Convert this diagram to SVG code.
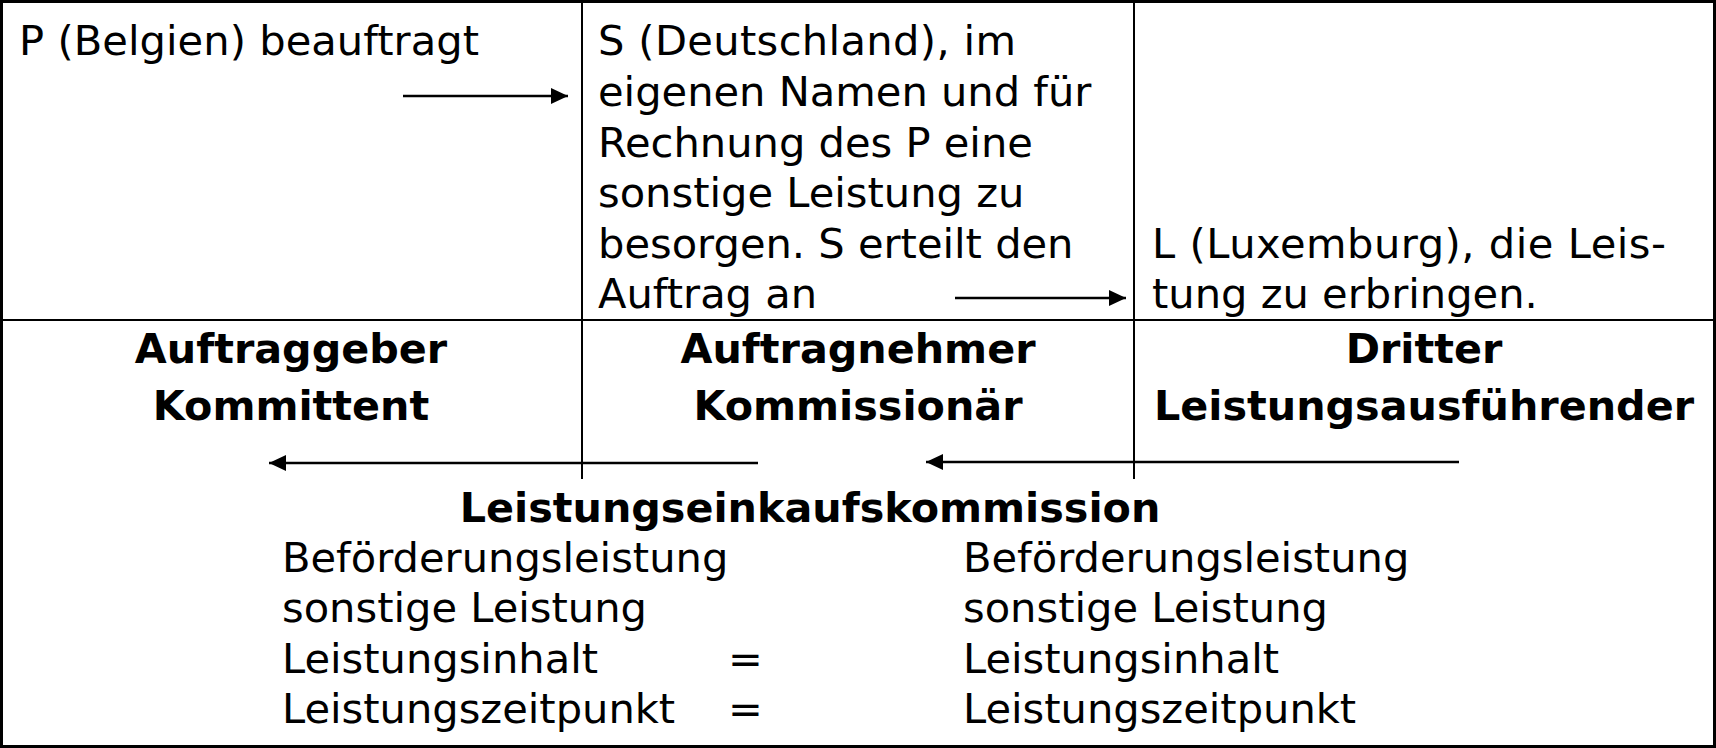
<svg xmlns="http://www.w3.org/2000/svg" width="1716" height="748" viewBox="0 0 1716 748">
<style>
.t{font-family:"DejaVu Sans","Noto Sans",sans-serif;font-size:41.6px;fill:#000}
.b{font-family:"DejaVu Sans","Noto Sans",sans-serif;font-size:41.3px;font-weight:bold;fill:#000;text-anchor:middle}
.grid{stroke:#000;stroke-width:2;fill:none}
.arr{stroke:#000;stroke-width:2.5;fill:none;marker-end:url(#ah)}
</style>
<defs>
<marker id="ah" markerUnits="userSpaceOnUse" markerWidth="17" markerHeight="16" refX="17" refY="8" orient="auto" viewBox="0 0 17 16">
<path d="M0,0 L17,8 L0,16 z" fill="#000"/>
</marker>
</defs>
<rect width="1716" height="748" fill="#fff"/>
<g id="frame">
<rect x="1.5" y="1.5" width="1713" height="745" fill="none" stroke="#000" stroke-width="3"/>
<line class="grid" x1="0" y1="320" x2="1716" y2="320"/>
<line class="grid" x1="582" y1="0" x2="582" y2="479"/>
<line class="grid" x1="1134" y1="0" x2="1134" y2="479"/>
</g>
<g id="cell-p">
<text class="t" x="19" y="55" textLength="460" lengthAdjust="spacing">P (Belgien) beauftragt</text>
</g>
<g id="cell-s">
<text class="t" x="598" y="55" textLength="418" lengthAdjust="spacing">S (Deutschland), im</text>
<text class="t" x="598" y="106">eigenen Namen und für</text>
<text class="t" x="598" y="157">Rechnung des P eine</text>
<text class="t" x="598" y="207">sonstige Leistung zu</text>
<text class="t" x="598" y="258">besorgen. S erteilt den</text>
<text class="t" x="598" y="308">Auftrag an</text>
</g>
<g id="cell-l">
<text class="t" x="1152" y="258" textLength="514" lengthAdjust="spacing">L (Luxemburg), die Leis-</text>
<text class="t" x="1152" y="308">tung zu erbringen.</text>
</g>
<g id="head-auftraggeber">
<text class="b" x="291" y="363">Auftraggeber</text>
<text class="b" x="291" y="420">Kommittent</text>
</g>
<g id="head-auftragnehmer">
<text class="b" x="858" y="363">Auftragnehmer</text>
<text class="b" x="858" y="420">Kommissionär</text>
</g>
<g id="head-dritter">
<text class="b" x="1424" y="363">Dritter</text>
<text class="b" x="1424" y="420">Leistungsausführender</text>
</g>
<g id="summary">
<text class="b" x="810" y="522">Leistungseinkaufskommission</text>
<text class="t" x="282" y="572">Beförderungsleistung</text>
<text class="t" x="282" y="622">sonstige Leistung</text>
<text class="t" x="282" y="673">Leistungsinhalt</text>
<text class="t" x="282" y="723">Leistungszeitpunkt</text>
<text class="t" x="728" y="673">=</text>
<text class="t" x="728" y="723">=</text>
<text class="t" x="963" y="572">Beförderungsleistung</text>
<text class="t" x="963" y="622">sonstige Leistung</text>
<text class="t" x="963" y="673">Leistungsinhalt</text>
<text class="t" x="963" y="723">Leistungszeitpunkt</text>
</g>
<g id="connectors">
<line class="arr" x1="403" y1="96" x2="568" y2="96"/>
<line class="arr" x1="955" y1="298" x2="1126" y2="298"/>
<line class="arr" x1="758" y1="463" x2="269" y2="463"/>
<line class="arr" x1="1459" y1="462" x2="926" y2="462"/>
</g>
</svg>
